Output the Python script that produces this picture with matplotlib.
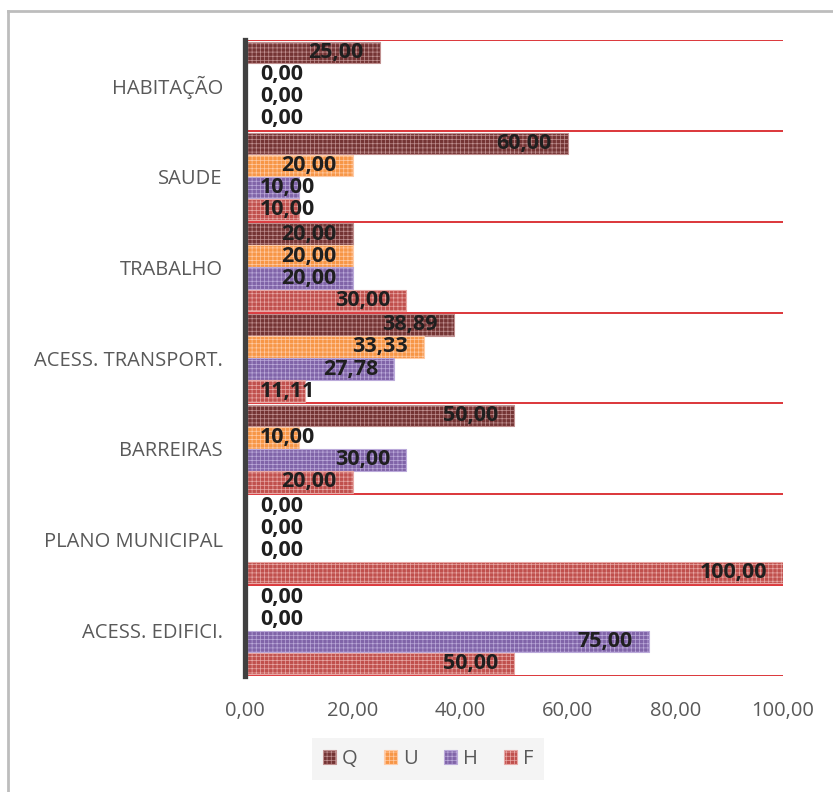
import matplotlib
matplotlib.use("Agg")
import matplotlib.pyplot as plt
from matplotlib.patches import Patch
from matplotlib.lines import Line2D

plt.rcParams['font.family'] = ['Open Sans', 'DejaVu Sans']
plt.rcParams['hatch.linewidth'] = 0.5

categories = ["HABITAÇÃO", "SAUDE", "TRABALHO", "ACESS. TRANSPORT.",
              "BARREIRAS", "PLANO MUNICIPAL", "ACESS. EDIFICI."]
series = ["Q", "U", "H", "F"]
Q = [25.00, 60.00, 20.00, 38.89, 50.00, 0.00, 0.00]
U = [0.00, 20.00, 20.00, 33.33, 10.00, 0.00, 0.00]
H = [0.00, 10.00, 20.00, 27.78, 30.00, 0.00, 75.00]
F = [0.00, 10.00, 30.00, 11.11, 20.00, 100.00, 50.00]
values = [Q, U, H, F]
xticks = [0, 20, 40, 60, 80, 100]

faces = ['#743434', '#F79646', '#8064A8', '#C0504D']
edges = ['#C09090', '#FFCBA6', '#BBAADA', '#E8A8A5']

fig = plt.figure(figsize=(8.33, 7.92), dpi=100)
ax = fig.add_axes([245/833, 1-676/792, (783-245)/833, (676-40)/792])

n = len(categories)
h = 0.2425
FS = 14.5
LFS = 15.5
for i, cat in enumerate(categories):
    top = n - i
    for j, s in enumerate(series):
        v = values[j][i]
        yc = top - 0.015 - h/2 - j*h
        ax.barh(yc, v, height=h*0.97, color=faces[j], edgecolor=edges[j],
                hatch='++++', linewidth=0.8, zorder=3)
        lbl = f"{v:.2f}".replace('.', ',')
        if v >= 15:
            ax.text(v - 3.0, yc, lbl, ha='right', va='center', fontsize=LFS,
                    fontweight='bold', color='#1f1f1f', zorder=5)
        else:
            ax.text(2.8, yc, lbl, ha='left', va='center', fontsize=LFS,
                    fontweight='bold', color='#1f1f1f', zorder=5)

for k in range(n + 1):
    ax.axhline(k, color='#D9262B', linewidth=1.3, zorder=1)

ax.set_xlim(0, 100)
ax.set_ylim(0, n)
ax.set_yticks([n - i - 0.5 for i in range(n)])
ax.set_yticklabels(categories)
ax.set_xticks(xticks)
ax.set_xticklabels([f"{t:.2f}".replace('.', ',') for t in xticks])
ax.tick_params(axis='y', length=0, pad=16, labelsize=FS, labelcolor='#595959')
ax.tick_params(axis='x', length=0, pad=18, labelsize=FS, labelcolor='#595959')
for sp in ['top', 'right', 'bottom']:
    ax.spines[sp].set_visible(False)
ax.spines['left'].set_color('#404040')
ax.spines['left'].set_linewidth(3.8)
ax.spines['left'].set_zorder(6)

handles = [Patch(facecolor=faces[j], edgecolor=edges[j], hatch='++++', linewidth=0.8)
           for j in range(4)]
leg = fig.legend(handles, series, loc='center', bbox_to_anchor=(428/833, 1-759/792),
                 ncol=4, frameon=True, fontsize=FS, handlelength=0.65, handleheight=0.65,
                 handletextpad=0.3, columnspacing=1.3, borderpad=0.55)
leg.get_frame().set_facecolor('#F2F2F2')
leg.get_frame().set_edgecolor('none')
leg.get_frame().set_boxstyle('square', pad=0.0)
for t in leg.get_texts():
    t.set_color('#595959')

# outer border (top and left visible)
fig.add_artist(Line2D([8/833, 1.0], [1-10.5/792, 1-10.5/792], transform=fig.transFigure,
                      color='#BDBDBD', linewidth=2))
fig.add_artist(Line2D([8/833, 8/833], [0.0, 1-10.5/792], transform=fig.transFigure,
                      color='#BDBDBD', linewidth=2))

fig.savefig('out.png', dpi=100)
